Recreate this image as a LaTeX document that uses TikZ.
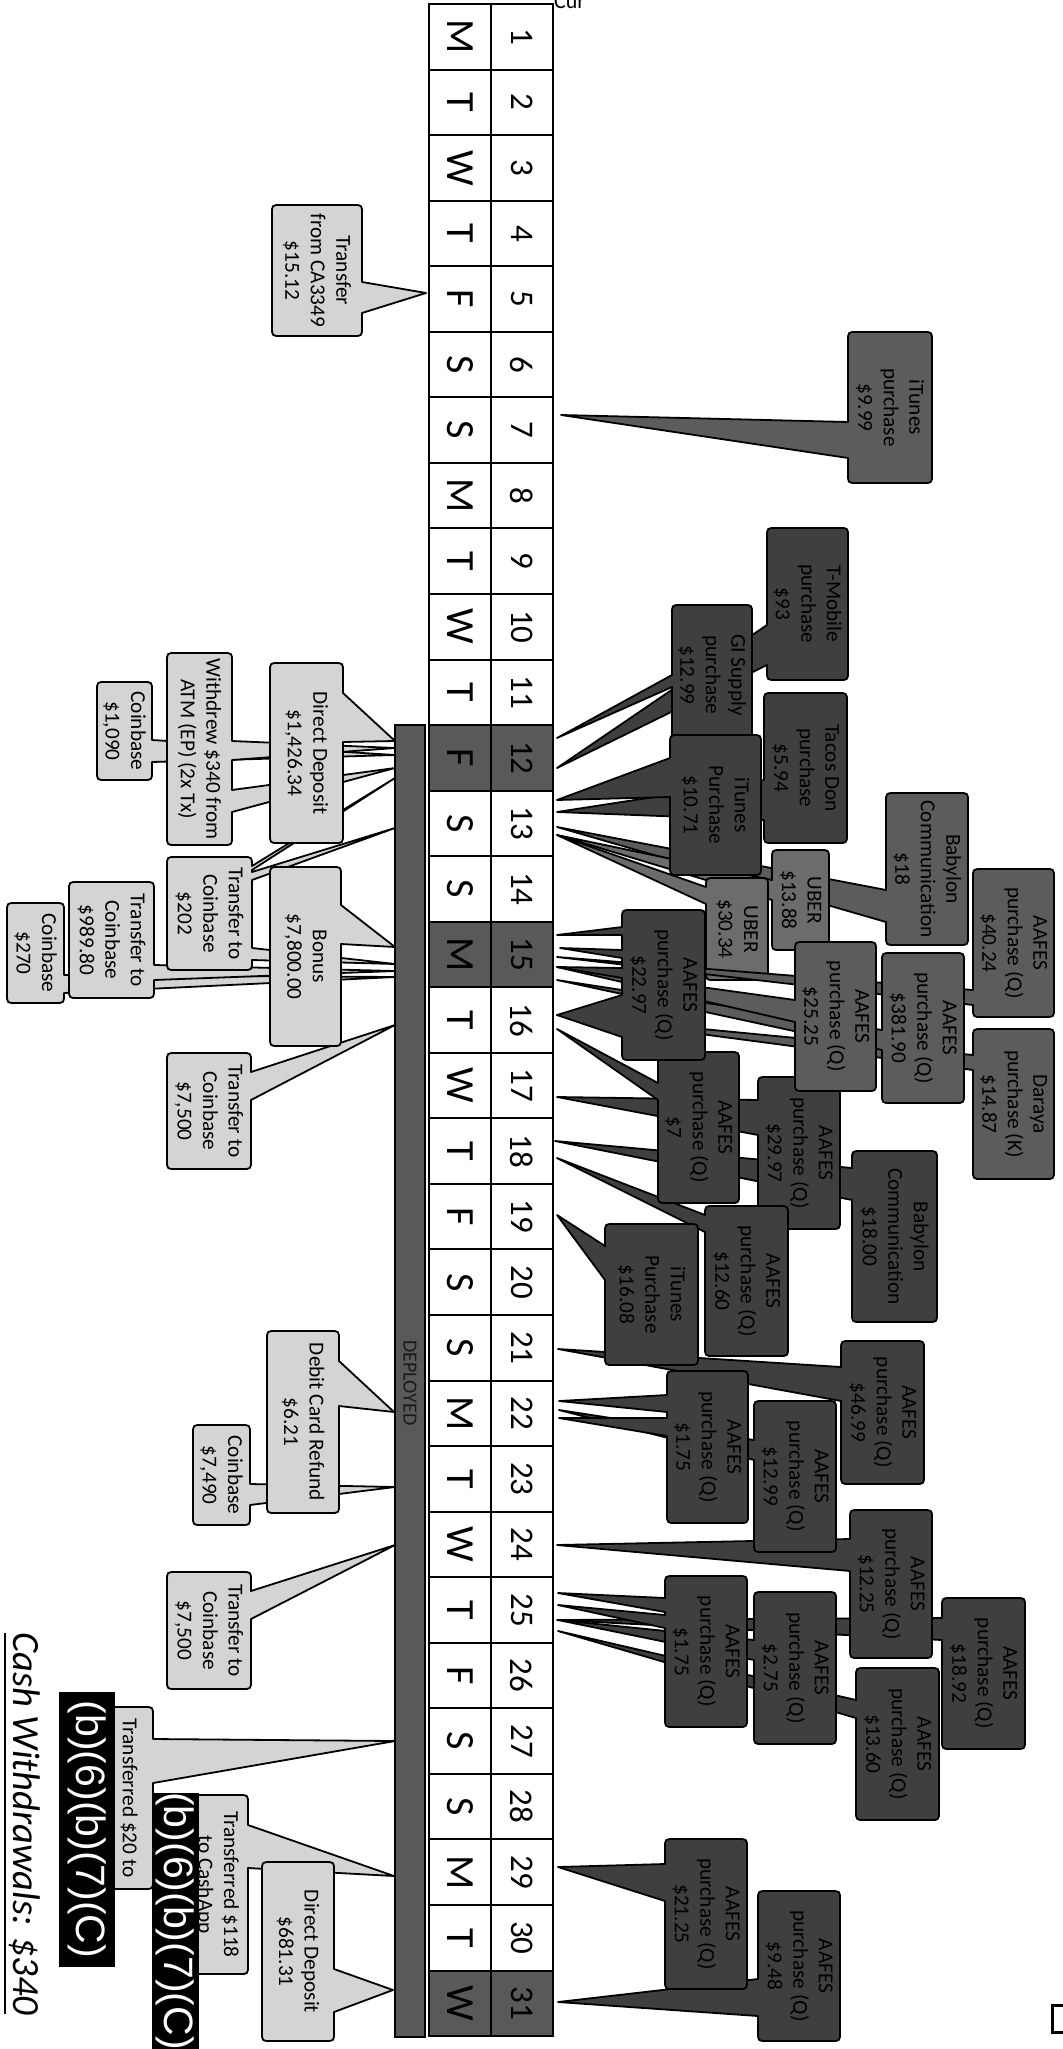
\documentclass[tikz,border=0pt]{standalone}
\usepackage{fontspec}
\setmainfont{Carlito}
\newfontfamily\redfont{Liberation Sans}
\definecolor{lightc}{HTML}{D4D4D4}
\definecolor{darkc}{HTML}{3F3F3F}
\definecolor{medc}{HTML}{5C5C5C}
\definecolor{uberc}{HTML}{6C6C6C}
\definecolor{cellshade}{HTML}{595959}
\tikzset{
  callbase/.style={draw=black, line width=1.8pt, line join=round},
  lc/.style={callbase, fill=lightc},
  dc/.style={callbase, fill=darkc},
  mc/.style={callbase, fill=medc},
  uc/.style={callbase, fill=uberc},
  txt/.style={rotate=-90, align=center, inner sep=0pt, font=\fontsize{21.3}{25.5}\selectfont},
  cellln/.style={draw=black, line width=2pt},
  dayl/.style={rotate=-90, inner sep=0pt, font=\fontsize{40}{40}\selectfont},
  dayn/.style={rotate=-90, inner sep=0pt, font=\fontsize{33}{33}\selectfont},
  redt/.style={rotate=-90, inner sep=0pt, text=white, font=\redfont\fontsize{41}{41}\selectfont},
}
% #1 style, #2 x1, #3 y1, #4 x2, #5 y2, #6 right-edge pointers, #7 left-edge pointers, #8 name, #9 text
\newcommand\cbx[9]{%
  \path[#1] ({(#2+#4)/2},#3) -- ({#4-9},#3) .. controls (#4,#3) .. (#4,{#3+9}) #6
    -- (#4,{#5-9}) .. controls (#4,#5) .. ({#4-9},#5) -- ({#2+9},#5)
    .. controls (#2,#5) .. (#2,{#5-9}) #7 -- (#2,{#3+9}) .. controls (#2,#3) .. ({#2+9},#3) -- cycle;
  \node[txt] (#8) at ({(#2+#4)/2},{(#3+#5)/2}) {#9};
}
\begin{document}
\begin{tikzpicture}[x=1pt,y=-1pt]
\useasboundingbox (0,0) rectangle (1062,2049);
\fill[white] (0,0) rectangle (1062,2049);

% ---------- calendar table ----------
\foreach \dy in {12,15,31}{
  \pgfmathsetmacro\yt{4+(\dy-1)*65.55}
  \pgfmathsetmacro\yb{4+\dy*65.55}
  \fill[cellshade] (429,\yt) rectangle (553,\yb);
}
\foreach \dy/\ll in {1/M,2/T,3/W,4/T,5/F,6/S,7/S,8/M,9/T,10/W,11/T,12/F,13/S,14/S,15/M,16/T,17/W,18/T,19/F,20/S,21/S,22/M,23/T,24/W,25/T,26/F,27/S,28/S,29/M,30/T,31/W}{
  \pgfmathsetmacro\yt{4+(\dy-1)*65.55}
  \pgfmathsetmacro\yb{4+\dy*65.55}
  \pgfmathsetmacro\yc{4+(\dy-0.5)*65.55}
  \draw[cellln] (429,\yt) rectangle (553,\yb);
  \draw[cellln] (491,\yt) -- (491,\yb);
  \node[dayl] (L\dy) at (460,\yc) {\ll};
  \node[dayn] (N\dy) at (522,\yc) {\dy};
}
\node[anchor=base west, inner sep=0pt, font=\fontsize{22}{22}\selectfont] (cur) at (554,9) {Cur};

% deployed bar
\draw[fill=cellshade, line width=1.5pt] (395,725) rectangle (425,2037);
\node[rotate=-90, inner sep=0pt, text=black!90, font=\fontsize{20}{20}\selectfont] (dep) at (410,1383) {DEPLOYED};

% ---------- left (light) callouts ----------
\cbx{lc}{272}{205}{362}{336}{-- (362,282) -- (426,293) -- (362,313)}{}{l1}{Transfer\\from CA3349\\\$15.12}
\cbx{lc}{97}{682}{152}{780}{-- (152,740) -- (395,755) -- (152,762)}{}{l2}{Coinbase\\\$1,090}
\cbx{lc}{167}{653}{232}{845}{-- (232,741) -- (395,748) -- (232,760) -- (232,790) -- (395,768) -- (232,812)}{}{l3}{Withdrew \$340 from\\ATM (EP) (2x Tx)}
\cbx{lc}{7}{903}{64}{1003}{-- (64,975) -- (395,977) -- (64,993)}{}{l4}{Coinbase\\\$270}
\cbx{lc}{69}{882}{154}{998}{-- (154,965) -- (395,971) -- (154,980)}{}{l5}{Transfer to\\Coinbase\\\$989.80}
\cbx{lc}{167}{857}{252}{970}{-- (252,866) -- (395,778) -- (252,870) -- (252,872) -- (395,828) -- (252,880) -- (252,948) -- (395,964) -- (252,960)}{}{l6}{Transfer to\\Coinbase\\\$202}
\cbx{lc}{270}{663}{343}{843}{-- (343,693) -- (395,741) -- (343,742)}{}{l7}{Direct Deposit\\\$1,426.34}
\cbx{lc}{167}{1053}{251}{1169}{-- (251,1072) -- (395,1025) -- (251,1100)}{}{l8}{Transfer to\\Coinbase\\\$7,500}
\cbx{lc}{270}{867}{341}{1046}{-- (341,905) -- (395,947) -- (341,944)}{}{l9}{Bonus\\\$7,800.00}
\cbx{lc}{193}{1425}{250}{1525}{-- (250,1484) -- (395,1487) -- (250,1505)}{}{l10}{Coinbase\\\$7,490}
\cbx{lc}{267}{1331}{339}{1513}{-- (339,1361) -- (394,1412) -- (339,1406)}{}{l11}{Debit Card Refund\\\$6.21}
\cbx{lc}{167}{1572}{251}{1689}{-- (251,1591) -- (395,1545) -- (251,1619)}{}{l12}{Transfer to\\Coinbase\\\$7,500}
\cbx{lc}{186}{1795}{248}{1974}{-- (248,1825) -- (394,1876) -- (248,1868)}{}{l13}{Transferred \$118\\to CashApp}
\cbx{lc}{262}{1862}{334}{2041}{-- (334,1969) -- (393,1990) -- (334,2012)}{}{l14}{Direct Deposit\\\$681.31}
\cbx{lc}{79}{1707}{153}{1889}{-- (153,1739) -- (395,1741) -- (153,1783)}{}{l15}{}
\node[txt] (l15t) at (129,1798) {Transferred \$20 to};

% ---------- right (dark) callouts ----------
\cbx{mc}{848}{332}{932}{483}{}{-- (848,458) -- (561,415) -- (848,422)}{r1}{iTunes\\purchase\\\$9.99}
\cbx{dc}{767}{528}{848}{680}{}{-- (767,665) -- (557,768) -- (767,625)}{r2}{T-Mobile\\purchase\\\$93}
\cbx{dc}{672}{605}{752}{745}{}{-- (672,687) -- (557,738) -- (672,675)}{r3}{GI Supply\\purchase\\\$12.99}
\cbx{dc}{764}{693}{847}{843}{}{-- (764,820) -- (557,812) -- (764,780)}{r4}{Tacos Don\\purchase\\\$5.94}
\cbx{mc}{886}{793}{968}{945}{}{-- (886,922) -- (557,827) -- (886,890)}{r5}{Babylon\\Communication\\\$18}
\cbx{uc}{772}{850}{829}{950}{}{-- (772,900) -- (557,835) -- (772,880)}{r6}{UBER\\\$13.88}
\cbx{dc}{670}{735}{761}{875}{}{-- (670,797) -- (557,800) -- (670,758)}{r7}{iTunes\\Purchase\\\$10.71}
\cbx{uc}{706}{878}{768}{980}{}{-- (706,904) -- (557,835) -- (706,887)}{r8}{UBER\\\$30.34}
\cbx{mc}{973}{1029}{1054}{1179}{}{-- (973,1070) -- (557,1015) -- (973,1055)}{r9}{Daraya\\purchase (K)\\\$14.87}
\cbx{mc}{973}{869}{1054}{1017}{}{-- (973,1005) -- (557,957) -- (973,990)}{r10}{AAFES\\purchase (Q)\\\$40.24}
\cbx{mc}{882}{953}{964}{1103}{}{-- (882,1050) -- (557,980) -- (882,1030)}{r11}{AAFES\\purchase (Q)\\\$381.90}
\cbx{dc}{852}{1151}{937}{1322}{}{-- (852,1200) -- (555,1141) -- (852,1168)}{r12}{Babylon\\Communication\\\$18.00}
\cbx{dc}{758}{1077}{840}{1229}{}{-- (758,1135) -- (557,1097) -- (758,1100)}{r13}{AAFES\\purchase (Q)\\\$29.97}
\cbx{mc}{795}{942}{876}{1091}{}{-- (795,1022) -- (557,967) -- (795,1000)}{r14}{AAFES\\purchase (Q)\\\$25.25}
\cbx{dc}{705}{1206}{788}{1356}{}{-- (705,1232) -- (557,1158) -- (705,1215)}{r15}{AAFES\\purchase (Q)\\\$12.60}
\cbx{dc}{658}{1052}{739}{1203}{}{-- (658,1100) -- (557,1029) -- (658,1083)}{r16}{AAFES\\purchase (Q)\\\$7}
\cbx{dc}{622}{910}{705}{1060}{}{-- (622,1037) -- (557,1015) -- (622,995) -- (622,978) -- (557,967) -- (622,968) -- (622,958) -- (560,948) -- (622,950) -- (622,935) -- (557,935) -- (622,927)}{r17}{AAFES\\purchase (Q)\\\$22.97}
\cbx{dc}{841}{1341}{924}{1484}{}{-- (841,1401) -- (558,1349) -- (841,1367)}{r18}{AAFES\\purchase (Q)\\\$46.99}
\cbx{dc}{605}{1224}{698}{1365}{}{-- (605,1280) -- (557,1215) -- (605,1246)}{r19}{iTunes\\Purchase\\\$16.08}
\cbx{dc}{942}{1598}{1025}{1749}{}{-- (942,1640) -- (557,1620) -- (942,1618)}{r20}{AAFES\\purchase (Q)\\\$18.92}
\cbx{dc}{850}{1510}{932}{1658}{}{-- (850,1571) -- (557,1545) -- (850,1539)}{r21}{AAFES\\purchase (Q)\\\$12.25}
\cbx{dc}{754}{1401}{836}{1552}{}{-- (754,1460) -- (559,1410) -- (754,1440)}{r22}{AAFES\\purchase (Q)\\\$12.99}
\cbx{dc}{667}{1371}{748}{1523}{}{-- (667,1436) -- (559,1418) -- (667,1418) -- (667,1412) -- (559,1401) -- (667,1395)}{r23}{AAFES\\purchase (Q)\\\$1.75}
\cbx{dc}{856}{1668}{939}{1820}{}{-- (856,1718) -- (558,1631) -- (856,1700)}{r24}{AAFES\\purchase (Q)\\\$13.60}
\cbx{dc}{754}{1592}{836}{1744}{}{-- (754,1660) -- (558,1620) -- (754,1640)}{r25}{AAFES\\purchase (Q)\\\$2.75}
\cbx{dc}{665}{1576}{747}{1727}{}{-- (665,1628) -- (558,1605) -- (665,1615) -- (665,1612) -- (558,1593) -- (665,1598)}{r26}{AAFES\\purchase (Q)\\\$1.75}
\cbx{dc}{758}{1891}{840}{2041}{}{-- (758,2016) -- (558,2002) -- (758,1979)}{r27}{AAFES\\purchase (Q)\\\$9.48}
\cbx{dc}{665}{1839}{747}{1989}{}{-- (665,1901) -- (558,1867) -- (665,1864)}{r28}{AAFES\\purchase (Q)\\\$21.25}

% ---------- redactions ----------
\fill[black] (58.5,1692) rectangle (115.4,1967);
\node[redt] (red1) at (87,1829.5) {(b)(6)(b)(7)(C)};
\fill[black] (151.5,1793) rectangle (199,2060);
\node[redt] (red2) at (175,1921) {(b)(6)(b)(7)(C)};

% ---------- summary ----------
\node[rotate=-90, anchor=base, inner sep=0pt, font=\itshape\fontsize{38.5}{40}\selectfont] (cw) at (13,1824) {Cash Withdrawals: \$340};
\draw[line width=1.8pt] (5,1633) -- (5,2014);

% corner mark
\draw[line width=3pt] (1052,2005) rectangle (1075,2032);
\end{tikzpicture}
\end{document}
